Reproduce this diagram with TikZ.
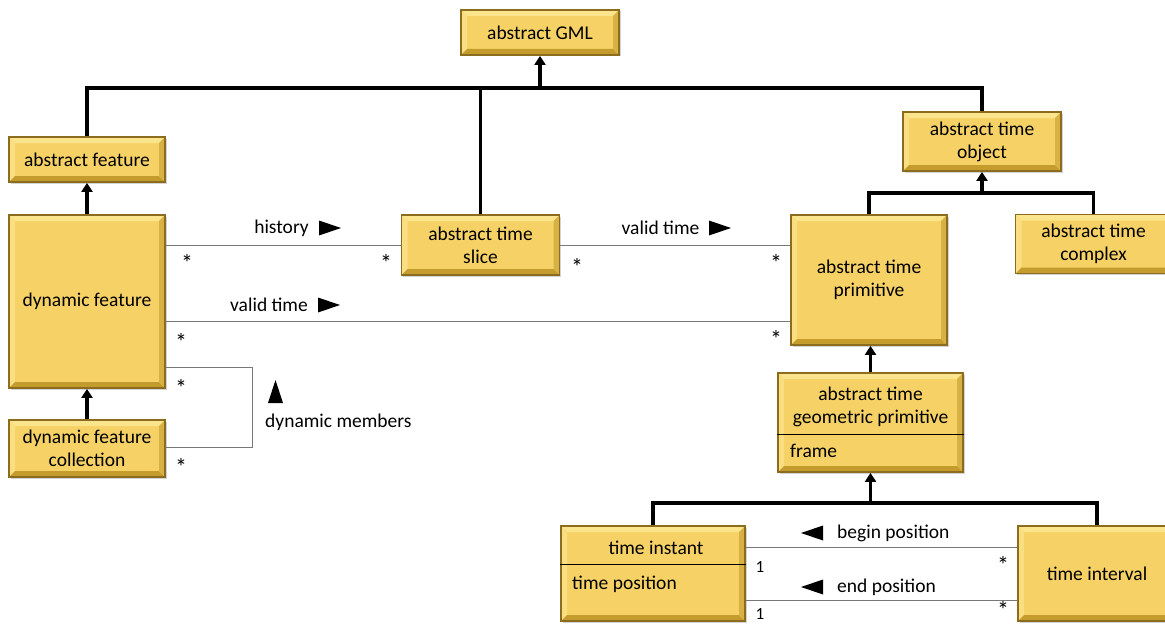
\documentclass[tikz,border=0pt]{standalone}
\usepackage{fontspec}
\setmainfont{Carlito}
\usetikzlibrary{arrows.meta,shadows}
\definecolor{boxfill}{RGB}{246,210,102}
\definecolor{boxedge}{RGB}{140,108,30}
\definecolor{bevlight}{RGB}{251,229,140}
\definecolor{bevdark}{RGB}{196,156,46}
\definecolor{assocgray}{RGB}{120,120,120}
\newcommand{\bevelbox}{%
  \fill[bevlight] (path picture bounding box.north west) -- (path picture bounding box.north east)
    -- ([xshift=-6pt,yshift=-6pt]path picture bounding box.north east)
    -- ([xshift=6pt,yshift=-6pt]path picture bounding box.north west) -- cycle;
  \fill[bevlight!70!boxfill] (path picture bounding box.north west) -- (path picture bounding box.south west)
    -- ([xshift=6pt,yshift=6pt]path picture bounding box.south west)
    -- ([xshift=6pt,yshift=-6pt]path picture bounding box.north west) -- cycle;
  \fill[bevdark] (path picture bounding box.south west) -- (path picture bounding box.south east)
    -- ([xshift=-6pt,yshift=6pt]path picture bounding box.south east)
    -- ([xshift=6pt,yshift=6pt]path picture bounding box.south west) -- cycle;
  \fill[bevdark!60!boxfill] (path picture bounding box.north east) -- (path picture bounding box.south east)
    -- ([xshift=-6pt,yshift=6pt]path picture bounding box.south east)
    -- ([xshift=-6pt,yshift=-6pt]path picture bounding box.north east) -- cycle;}
\begin{document}
\begin{tikzpicture}[x=1pt,y=-1pt,
  cls/.style={draw=boxedge,line width=1.8pt,fill=boxfill,path picture={\bevelbox},
    drop shadow={shadow xshift=1.5pt,shadow yshift=-1.5pt,opacity=0.35},
    align=center,inner sep=2pt,font=\fontsize{19.5}{23}\selectfont},
  gen/.style={line width=3.2pt,black},
  genarrow/.style={gen,-{Triangle[width=11pt,length=9pt]}},
  assoc/.style={line width=0.8pt,assocgray},
  lbl/.style={font=\fontsize{19.5}{23}\selectfont,inner sep=0pt},
  mult/.style={font=\fontsize{17}{19}\selectfont,inner sep=0pt},
  star/.style={font=\fontsize{24}{26}\selectfont,inner sep=0pt}]
\useasboundingbox (0,0) rectangle (1165,626);
\pgfmathsetmacro{\boxw}{156}

\node[cls,minimum width=158pt,minimum height=45pt] (gml) at (540,32.5) {abstract GML};
\node[cls,minimum width=\boxw pt,minimum height=45pt] (feat) at (87,159.5) {abstract feature};
\node[cls,minimum width=\boxw pt,minimum height=173pt] (dynf) at (87,301.5) {dynamic feature};
\node[cls,minimum width=\boxw pt,minimum height=57pt] (coll) at (87,448.5) {dynamic feature\\collection};
\node[cls,minimum width=158pt,minimum height=60pt] (slice) at (480.5,245) {abstract time\\slice};
\node[cls,minimum width=158pt,minimum height=59pt] (obj) at (982,141.5) {abstract time\\object};
\node[cls,minimum width=\boxw pt,minimum height=130pt] (prim) at (869,280) {abstract time\\primitive};
\node[cls,minimum width=156pt,minimum height=59pt] (cplx) at (1093.5,244) {abstract time\\complex};
\node[cls,minimum width=185pt,minimum height=99pt] (geo) at (870.5,422.5) {};
\node[cls,minimum width=184pt,minimum height=95pt] (inst) at (653,573.5) {};
\node[cls,minimum width=158pt,minimum height=95pt] (intv) at (1097,573.5) {time interval};

\node[lbl,align=center] (geotitle) at (870.5,406.5) {abstract time\\geometric primitive};
\draw[black,line width=1pt] (geo.west |- 0,434) -- (geo.east |- 0,434);
\node[lbl,anchor=west] (geoattr) at (790,451) {frame};
\node[lbl] (insttitle) at (656,548) {time instant};
\draw[black,line width=1pt] (inst.west |- 0,564) -- (inst.east |- 0,564);
\node[lbl,anchor=west] (instattr) at (572,584) {time position};

\coordinate (bus) at (540,88);
\draw[gen] (feat.north) |- (bus) -| (obj.north);
\draw[gen] (slice.north) -- (slice.north |- bus);
\draw[genarrow] (bus) -- (gml.south);
\coordinate (objbus) at (982,193);
\draw[gen] (prim.north) |- (objbus) -| (cplx.north);
\draw[genarrow] (objbus) -- (obj.south);
\draw[genarrow] (dynf.north) -- (feat.south);
\draw[genarrow] (coll.north) -- (dynf.south);
\draw[genarrow] (geo.north) -- (geo.north |- prim.south);
\coordinate (geobus) at (870.5,503);
\draw[gen] (inst.north) |- (geobus) -| (intv.north);
\draw[genarrow] (geobus) -- (geo.south);

\draw[assoc] (dynf.east |- slice.west) -- (slice.west);
\draw[assoc] (slice.east) -- (slice.east -| prim.west);
\draw[assoc] ([yshift=-19.5pt]dynf.east) coordinate (vt) -- (vt -| prim.west);
\coordinate (dm) at (252,447);
\draw[assoc] ([yshift=-65.5pt]dynf.east) -| (dm) -- (dm -| coll.east);
\draw[assoc] ([yshift=26.5pt]inst.east) coordinate (bp) -- (bp -| intv.west);
\draw[assoc] ([yshift=-26.5pt]inst.east) coordinate (ep) -- (ep -| intv.west);

\node[lbl] (hist) at (281.5,228) {history};
\fill (319,220.5) -- (341,228) -- (319,235.5) -- cycle;
\node[lbl] (valid) at (660.5,228) {valid time};
\fill (709,220.5) -- (731,228) -- (709,235.5) -- cycle;
\node[lbl] (validdyn) at (269,305) {valid time};
\fill (318,297.5) -- (340,305) -- (318,312.5) -- cycle;
\node[lbl,anchor=west] (members) at (265,422) {dynamic members};
\fill (268,403) -- (275.5,380) -- (283,403) -- cycle;
\node[lbl,anchor=west] (begin) at (837,533) {begin position};
\fill (823,525.5) -- (801,533) -- (823,540.5) -- cycle;
\node[lbl,anchor=west] (end) at (837,587) {end position};
\fill (823,579.5) -- (801,587) -- (823,594.5) -- cycle;

\node[star] (m1) at (187,263) {*};
\node[star] (m2) at (386,263) {*};
\node[star] (m3) at (577,267) {*};
\node[star] (m4) at (776,263) {*};
\node[star] (m5) at (181,342) {*};
\node[star] (m6) at (776,339) {*};
\node[star] (m7) at (181,388) {*};
\node[star] (m8) at (181,467) {*};
\node[mult] (m9) at (760,567) {1};
\node[mult] (m10) at (760,614) {1};
\node[star] (m11) at (1003,565) {*};
\node[star] (m12) at (1003,610) {*};
\end{tikzpicture}
\end{document}
